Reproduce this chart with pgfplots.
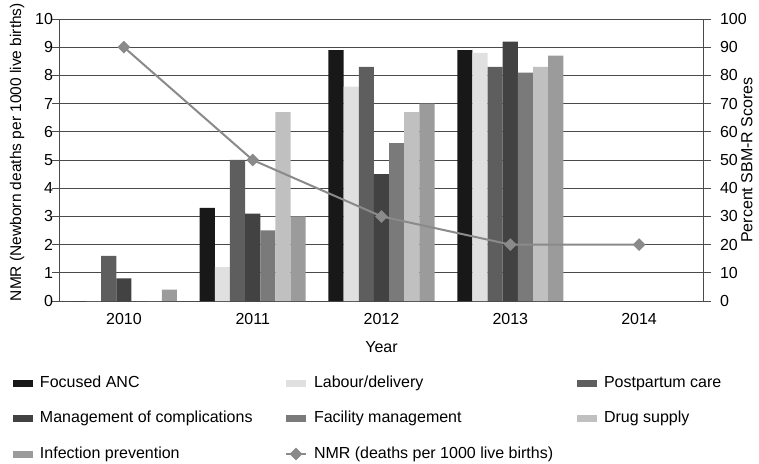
\documentclass[border=0pt]{standalone}
\usepackage{fontspec}
\setmainfont{Liberation Sans}
\setsansfont{Liberation Sans}
\usepackage{pgfplots}
\pgfplotsset{compat=1.18}

\definecolor{cANC}{HTML}{181818}
\definecolor{cLab}{HTML}{E0E0E0}
\definecolor{cPost}{HTML}{5E5E5E}
\definecolor{cMan}{HTML}{424242}
\definecolor{cFac}{HTML}{7A7A7A}
\definecolor{cDrug}{HTML}{C0C0C0}
\definecolor{cInf}{HTML}{9B9B9B}
\definecolor{cNMR}{HTML}{8A8A8A}
\definecolor{cAx}{HTML}{4A4A4A}

\newcommand{\fs}{\fontsize{16}{19}\selectfont}

\pgfplotsset{
  barleg/.style={legend image code/.code={\fill[##1] (0pt,-3.5pt) rectangle (20pt,3.5pt);}},
  nmrleg/.style={legend image code/.code={\draw[mark repeat=2, mark phase=2, ##1] plot coordinates {(0pt,0pt) (10pt,0pt) (20pt,0pt)};}},
}

\begin{document}
\begin{tikzpicture}
\path[use as bounding box] (0pt,0pt) rectangle (759pt,463pt);

% Bars on the percent (right) axis
\begin{axis}[
  at={(59.5pt,162pt)}, anchor=south west,
  width=644pt, height=282pt, scale only axis,
  xmin=-0.5, xmax=4.5, ymin=0, ymax=100,
  axis x line*=bottom, axis y line*=right,
  axis line style={-, cAx, line width=0.8pt},
  xtick={0,1,2,3,4}, xticklabels={2010,2011,2012,2013,2014},
  x tick style={draw=none},
  xticklabel style={font=\fs, yshift=-2pt},
  ytick={0,10,...,100},
  y tick style={cAx, line width=0.8pt},
  major tick length=7pt, tick align=outside,
  yticklabel style={font=\fs, xshift=6pt},
  /pgf/number format/assume math mode=true,
  ymajorgrids, grid style={cAx, line width=0.8pt},
  ybar=0pt, bar width=15.15pt,
  xlabel={Year},
  xlabel style={font=\fs, at={(axis description cs:0.5,0)}, anchor=center, yshift=-46pt},
  ylabel={Percent SBM-R Scores},
  ylabel style={font=\fs, at={(axis description cs:1.0675,0.5)}, anchor=center, rotate=0},
]
\addplot[fill=cANC, draw=none] coordinates {(0,0) (1,33) (2,89) (3,89)};
\addplot[fill=cLab, draw=none] coordinates {(0,0) (1,12) (2,76) (3,88)};
\addplot[fill=cPost, draw=none] coordinates {(0,16) (1,50) (2,83) (3,83)};
\addplot[fill=cMan, draw=none] coordinates {(0,8) (1,31) (2,45) (3,92)};
\addplot[fill=cFac, draw=none] coordinates {(0,0) (1,25) (2,56) (3,81)};
\addplot[fill=cDrug, draw=none] coordinates {(0,0) (1,67) (2,67) (3,83)};
\addplot[fill=cInf, draw=none] coordinates {(0,4) (1,30) (2,70) (3,87)};

% category separators and extended axis lines
\draw[cAx, line width=0.8pt] (axis cs:0.5,0) -- ++(0pt,-28pt);
\draw[cAx, line width=0.8pt] (axis cs:1.5,0) -- ++(0pt,-28pt);
\draw[cAx, line width=0.8pt] (axis cs:2.5,0) -- ++(0pt,-28pt);
\draw[cAx, line width=0.8pt] (axis cs:3.5,0) -- ++(0pt,-28pt);
\draw[cAx, line width=0.8pt] (rel axis cs:0,0) -- ++(0pt,-57pt);
\draw[cAx, line width=0.8pt] (rel axis cs:1,0) -- ++(0pt,-57pt);
\end{axis}

% NMR line on the left axis, plus the legend
\begin{axis}[
  at={(59.5pt,162pt)}, anchor=south west,
  width=644pt, height=282pt, scale only axis,
  xmin=-0.5, xmax=4.5, ymin=0, ymax=10,
  axis y line*=left, axis x line=none,
  axis line style={-, cAx, line width=0.8pt},
  ytick={0,1,...,10},
  y tick style={cAx, line width=0.8pt},
  major tick length=7pt, tick align=outside,
  yticklabel style={font=\fs, xshift=4pt},
  /pgf/number format/assume math mode=true,
  ylabel={NMR (Newborn deaths per 1000 live births)},
  ylabel style={font=\fontsize{15.5}{18}\selectfont, at={(axis description cs:-0.066,0.528)}, anchor=center},
  legend columns=3,
  legend cell align=left,
  legend style={at={(axis description cs:0,0)}, anchor=north west,
    xshift=-46.5pt, yshift=-74pt, draw=none, fill=none,
    inner sep=0pt, outer sep=0pt, row sep=19.5pt, font=\fs,
    nodes={inner sep=0pt, text height=12pt, text depth=4pt},
    /tikz/every odd column/.style={column sep=7pt}},
]
\addlegendimage{fill=cANC, draw=none, barleg}
\addlegendentry{\makebox[245pt][l]{Focused ANC}}
\addlegendimage{fill=cLab, draw=none, barleg}
\addlegendentry{\makebox[263pt][l]{Labour/delivery}}
\addlegendimage{fill=cPost, draw=none, barleg}
\addlegendentry{Postpartum care}
\addlegendimage{fill=cMan, draw=none, barleg}
\addlegendentry{\makebox[245pt][l]{Management of complications}}
\addlegendimage{fill=cFac, draw=none, barleg}
\addlegendentry{\makebox[263pt][l]{Facility management}}
\addlegendimage{fill=cDrug, draw=none, barleg}
\addlegendentry{Drug supply}
\addlegendimage{fill=cInf, draw=none, barleg}
\addlegendentry{\makebox[245pt][l]{Infection prevention}}
\addplot[cNMR, line width=2pt, mark=square*, mark size=3.5pt, mark options={solid, fill=cNMR, rotate=45}, nmrleg]
  coordinates {(0,9) (1,5) (2,3) (3,2) (4,2)};
\addlegendentry{\makebox[263pt][l]{NMR (deaths per 1000 live births)}}
\end{axis}
\end{tikzpicture}
\end{document}
